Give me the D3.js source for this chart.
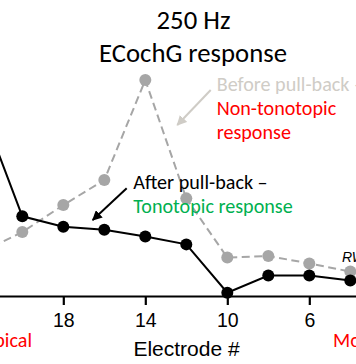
<!DOCTYPE html>
<html><head><meta charset="utf-8">
<script src="https://cdn.jsdelivr.net/npm/d3@7"></script>
<style>html,body{margin:0;padding:0;background:#fff;overflow:hidden}</style>
</head><body><svg id="c" width="356" height="364"></svg>
<script>
// Data (electrode number, response amplitude in arbitrary units)
const electrodes = [22, 20, 18, 16, 14, 12, 10, 8, 6, 4];
const beforePullBack = [2.04, 2.96, 4.21, 5.37, 10.0, 4.52, 1.78, 1.85, 1.51, 1.13];
const afterPullBack = [8.70, 3.69, 3.21, 3.07, 2.75, 2.39, 0.15, 0.95, 0.95, 0.72];
const tickValues = [18, 14, 10, 6];
const titleLines = ["250 Hz", "ECochG response"];
const xLabel = "Electrode #";

const svg = d3.select("#c");
const sansC = "Carlito, Lato, 'Open Sans', sans-serif";
const arial = "'Liberation Sans', Arial, sans-serif";

const x = d3.scaleLinear().domain([23, 3]).range([-39.2, 370.8]);
const y = d3.scaleLinear().domain([0, 10]).range([296, 80]);

function fitWidth(sel, w) {
  const l = sel.node().getComputedTextLength();
  const fs = parseFloat(sel.attr("font-size"));
  const nfs = fs * w / l;
  sel.attr("font-size", nfs);
  return nfs;
}

// defs for arrows
const defs = svg.append("defs");
function marker(id, color) {
  defs.append("marker").attr("id", id).attr("viewBox", "0 0 10 10")
    .attr("refX", 9).attr("refY", 5).attr("markerWidth", 5).attr("markerHeight", 5)
    .attr("markerUnits", "strokeWidth").attr("orient", "auto")
    .append("path").attr("d", "M0,0 L10,5 L0,10 z").attr("fill", color);
}
marker("ag", "#cfccc6");
marker("ab", "#000");

// Axis
const axis = d3.axisBottom(x).tickValues(tickValues).tickSize(9).tickSizeOuter(0);
const gx = svg.append("g").attr("transform", "translate(0,296)").call(axis);
gx.select(".domain").attr("stroke", "#000").attr("stroke-width", 2.2);
gx.selectAll(".tick line").attr("stroke", "#000").attr("stroke-width", 2.2);
gx.selectAll(".tick text").attr("fill", "#000").attr("font-family", arial)
  .attr("font-size", 19.5).attr("y", 31.3).attr("dy", 0);

svg.append("text").attr("x", 186.5).attr("y", 356).attr("text-anchor", "middle")
  .attr("font-family", arial).attr("font-size", 21).attr("fill", "#000").text(xLabel);

// Series
const beforeData = electrodes.map((e, i) => ({e, v: beforePullBack[i]}));
const afterData = electrodes.map((e, i) => ({e, v: afterPullBack[i]}));
const line = d3.line().x(d => x(d.e)).y(d => y(d.v));

svg.append("path").datum(beforeData).attr("d", line).attr("fill", "none")
  .attr("stroke", "#a6a6a6").attr("stroke-width", 2).attr("stroke-dasharray", "8,4.5");
svg.append("g").selectAll("circle").data(beforeData).join("circle")
  .attr("cx", d => x(d.e)).attr("cy", d => y(d.v)).attr("r", 6).attr("fill", "#a6a6a6");

svg.append("path").datum(afterData).attr("d", line).attr("fill", "none")
  .attr("stroke", "#000").attr("stroke-width", 2);
svg.append("g").selectAll("circle").data(afterData).join("circle")
  .attr("cx", d => x(d.e)).attr("cy", d => y(d.v)).attr("r", 6).attr("fill", "#000");

// Title
const t2 = svg.append("text").attr("x", 193).attr("y", 61.7).attr("text-anchor", "middle")
  .attr("font-family", sansC).attr("font-size", 26).attr("fill", "#000").text(titleLines[1]);
const tfs = fitWidth(t2, 188);
svg.append("text").attr("x", 193.5).attr("y", 29).attr("text-anchor", "middle")
  .attr("font-family", sansC).attr("font-size", tfs).attr("fill", "#000").text(titleLines[0]);

// Annotations
const ref = svg.append("text").attr("x", 133.3).attr("y", 213.3)
  .attr("font-family", sansC).attr("font-size", 20).attr("fill", "#00b050").text("Tonotopic response");
const afs = fitWidth(ref, 159.4);
function ann(txt, xx, yy, col, anchor) {
  svg.append("text").attr("x", xx).attr("y", yy).attr("text-anchor", anchor || "start")
    .attr("font-family", sansC).attr("font-size", afs).attr("fill", col).text(txt);
}
ann("After pull-back \u2013", 133.3, 189.3, "#000");
ann("Before pull-back \u2013", 216.7, 90.7, "#cfccc6");
ann("Non-tonotopic", 216.7, 115, "#ff0000");
ann("response", 216.7, 138.5, "#ff0000");
ann("Apical", 32, 346.7, "#ff0000", "end");
ann("Most basal", 333, 346.7, "#ff0000");

svg.append("text").attr("x", 342).attr("y", 261.7).attr("font-family", arial)
  .attr("font-style", "italic").attr("font-size", 14).attr("fill", "#000").text("RW");

// Arrows
svg.append("line").attr("x1", 210.7).attr("y1", 90).attr("x2", 177.3).attr("y2", 125)
  .attr("stroke", "#cfccc6").attr("stroke-width", 2).attr("marker-end", "url(#ag)");
svg.append("line").attr("x1", 126.7).attr("y1", 188.3).attr("x2", 92.7).attr("y2", 220)
  .attr("stroke", "#000").attr("stroke-width", 2).attr("marker-end", "url(#ab)");
</script>
</body></html>
